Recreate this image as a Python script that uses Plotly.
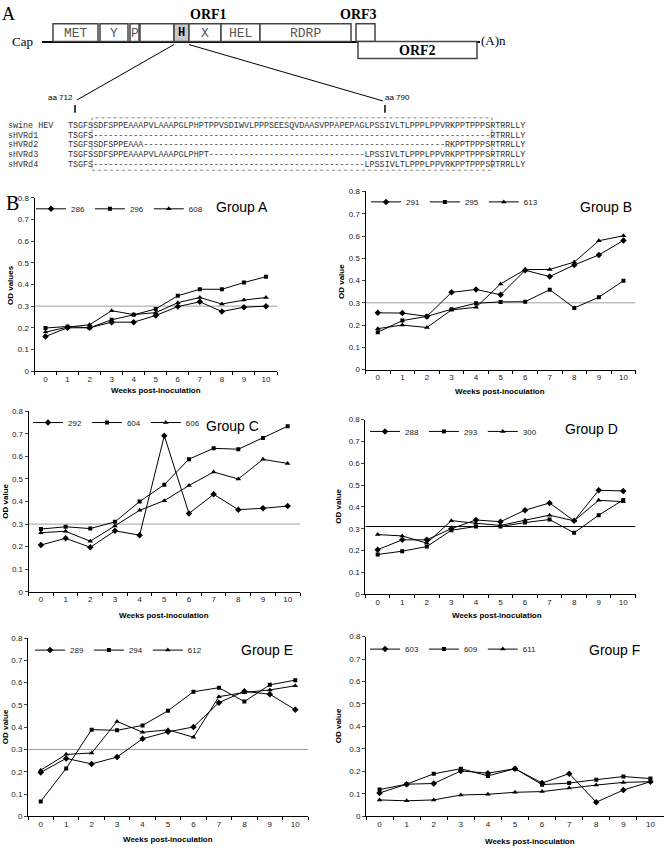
import plotly.graph_objects as go

W, H = 664, 852

weeks = list(range(11))

# ---- data (OD values) ----
groups = ["Group A", "Group B", "Group C", "Group D", "Group E", "Group F"]
pig_ids = [["286", "296", "608"], ["291", "295", "613"], ["292", "604", "606"],
           ["288", "293", "300"], ["289", "294", "612"], ["603", "609", "611"]]

gA_286 = [0.16, 0.20, 0.20, 0.226, 0.226, 0.257, 0.298, 0.32, 0.275, 0.295, 0.30]
gA_296 = [0.199, 0.206, 0.20, 0.237, 0.26, 0.287, 0.348, 0.378, 0.378, 0.409, 0.436]
gA_608 = [0.18, 0.203, 0.214, 0.279, 0.261, 0.27, 0.316, 0.34, 0.31, 0.328, 0.34]

gB_291 = [0.255, 0.254, 0.239, 0.347, 0.36, 0.336, 0.446, 0.418, 0.47, 0.515, 0.58]
gB_295 = [0.168, 0.22, 0.239, 0.271, 0.298, 0.304, 0.305, 0.359, 0.277, 0.325, 0.399]
gB_613 = [0.184, 0.20, 0.189, 0.268, 0.28, 0.385, 0.449, 0.45, 0.483, 0.579, 0.601]

gC_292 = [0.207, 0.237, 0.197, 0.27, 0.251, 0.692, 0.347, 0.432, 0.364, 0.37, 0.38]
gC_604 = [0.278, 0.288, 0.28, 0.31, 0.40, 0.475, 0.588, 0.636, 0.632, 0.682, 0.734]
gC_606 = [0.262, 0.268, 0.224, 0.292, 0.361, 0.404, 0.471, 0.531, 0.50, 0.587, 0.569]

gD_288 = [0.204, 0.249, 0.249, 0.30, 0.34, 0.332, 0.385, 0.418, 0.336, 0.476, 0.473]
gD_293 = [0.182, 0.197, 0.218, 0.293, 0.31, 0.31, 0.328, 0.342, 0.281, 0.362, 0.432]
gD_300 = [0.273, 0.267, 0.234, 0.337, 0.325, 0.315, 0.339, 0.362, 0.336, 0.43, 0.424]

gE_289 = [0.197, 0.26, 0.235, 0.266, 0.348, 0.379, 0.401, 0.51, 0.561, 0.548, 0.478]
gE_294 = [0.067, 0.215, 0.389, 0.386, 0.408, 0.474, 0.559, 0.577, 0.515, 0.59, 0.611]
gE_612 = [0.207, 0.278, 0.284, 0.426, 0.377, 0.388, 0.355, 0.537, 0.556, 0.567, 0.586]

gF_603 = [0.104, 0.143, 0.146, 0.202, 0.192, 0.212, 0.148, 0.19, 0.063, 0.117, 0.154]
gF_609 = [0.119, 0.143, 0.189, 0.212, 0.18, 0.212, 0.141, 0.148, 0.163, 0.177, 0.168]
gF_611 = [0.073, 0.069, 0.073, 0.095, 0.098, 0.107, 0.11, 0.126, 0.139, 0.151, 0.154]

series = [[gA_286, gA_296, gA_608], [gB_291, gB_295, gB_613], [gC_292, gC_604, gC_606],
          [gD_288, gD_293, gD_300], [gE_289, gE_294, gE_612], [gF_603, gF_609, gF_611]]
cutoffs = [0.3, 0.3, 0.3, 0.31, 0.3, None]
cutoff_colors = ["#a0a0a0", "#a0a0a0", "#a0a0a0", "#000000", "#a0a0a0", None]
ytitles = ["OD values", "OD value", "OD value", "OD value", "OD value", "OD value"]
ytick_vals = [0, 0.1, 0.2, 0.3, 0.4, 0.5, 0.6, 0.7, 0.8]
ytick_text = ["0", "0.1", "0.2", "0.3", "0.4", "0.5", "0.6", "0.7", "0.8"]
symbols = ["diamond", "square", "triangle-up"]
sym_sizes = [5, 4, 5]

# ---- sequence alignment (panel A) ----
seq_names = ["swine HEV", "sHVRd1", "sHVRd2", "sHVRd3", "sHVRd4"]
seq_rows = [
    "TSGFS" + "SDFSPPEAAAPVLAAAPGLPHPTPPVSDIWVLPPPSEESQVDAASVPPAPEPAGLPSSIVLTLPPPLPPVRKPPTPPPS" + "RTRRLLY",
    "TSGFS" + "-" * 79 + "RTRRLLY",
    "TSGFS" + "SDFSPPEAAA" + "-" * 60 + "RKPPTPPPS" + "RTRRLLY",
    "TSGFS" + "SDFSPPEAAAPVLAAAPGLPHPT" + "-" * 31 + "LPSSIVLTLPPPLPPVRKPPTPPPS" + "RTRRLLY",
    "TSGFS" + "-" * 54 + "LPSSIVLTLPPPLPPVRKPPTPPPS" + "RTRRLLY",
]

# genome domain boxes: label, left px, right px
orf1_domains = [("MET", 53, 98), ("Y", 100, 128), ("P", 130, 139), ("", 140, 174),
                ("H", 174, 189), ("X", 189, 221), ("HEL", 221, 260), ("RDRP", 260, 351)]

# ---- layout geometry (pixels) ----
panels = [  # x0, x1, ytop(0.8), ybottom(0)
    (34.5, 277, 196, 371),
    (365.5, 635.7, 189.5, 369.5),
    (28.6, 300, 411.7, 594),
    (365.4, 635.5, 420, 596.5),
    (28, 308, 640.8, 821),
    (366, 664, 639.3, 821),
]
title_pos = [(242, 205), (606, 205), (233, 426), (591, 430), (267, 653), (614, 653)]
legend_pos = [(31, 207), (366, 200), (28, 423), (365, 432), (30, 653), (365, 652)]
ytitle_pos = [(11, 284), (341, 280), (6, 503), (339, 508), (5, 731), (338, 730)]
xtitle_pos = [(156, 391), (500, 392), (164, 618), (497, 618), (168, 844), (530, 846)]


def fx(x):
    return x / W


def fy(y):
    return 1 - y / H


fig = go.Figure()
annotations = []
shapes = []

for i in range(6):
    ax = "" if i == 0 else str(i + 1)
    x0, x1, yt, yb = panels[i]
    leg = "legend" if i == 0 else "legend" + str(i + 1)
    for k in range(3):
        fig.add_trace(go.Scatter(
            x=weeks, y=series[i][k], mode="lines+markers", name=pig_ids[i][k],
            xaxis="x" + ax, yaxis="y" + ax, legend=leg,
            line=dict(color="black", width=1),
            marker=dict(symbol=symbols[k], size=sym_sizes[k], color="black"),
        ))
    fig.layout["xaxis" + ax] = dict(
        domain=[fx(x0), fx(x1)], anchor="y" + ax, range=[-0.5, 10.5],
        tickvals=weeks, ticktext=[str(w) for w in weeks], ticks="",
        showline=True, linecolor="black", linewidth=1, showgrid=False, zeroline=False,
        tickfont=dict(family="Arial, Liberation Sans", size=8, color="#222"),
        minor=dict(tickvals=[w - 0.5 for w in weeks] + [10.5], ticks="outside",
                   ticklen=3, tickcolor="black", showgrid=False),
    )
    fig.layout["yaxis" + ax] = dict(
        domain=[fy(yb), fy(yt)], anchor="x" + ax, range=[0, 0.8],
        tickvals=ytick_vals, ticktext=ytick_text, ticks="outside", ticklen=3,
        showline=True, linecolor="black", linewidth=1, showgrid=False, zeroline=False,
        tickfont=dict(family="Arial, Liberation Sans", size=8, color="#222"),
    )
    lx, ly = legend_pos[i]
    fig.layout[leg] = dict(
        x=fx(lx), y=fy(ly), xanchor="left", yanchor="middle", orientation="h",
        font=dict(family="Arial, Liberation Sans", size=8, color="#222"),
        bgcolor="rgba(0,0,0,0)", itemwidth=30, tracegroupgap=0,
    )
    if cutoffs[i] is not None:
        shapes.append(dict(type="line", xref="x" + ax, yref="y" + ax,
                           x0=-0.5, x1=10.5, y0=cutoffs[i], y1=cutoffs[i],
                           line=dict(color=cutoff_colors[i], width=1), layer="below"))
    tx, ty = title_pos[i]
    annotations.append(dict(text=groups[i], x=fx(tx), y=fy(ty), xref="paper", yref="paper",
                            showarrow=False, xanchor="center", yanchor="middle",
                            font=dict(family="Arial, Liberation Sans", size=14, color="black")))
    yx, yy = ytitle_pos[i]
    annotations.append(dict(text="<b>" + ytitles[i] + "</b>", x=fx(yx), y=fy(yy), xref="paper",
                            yref="paper", showarrow=False, textangle=-90,
                            xanchor="center", yanchor="middle",
                            font=dict(family="Arial, Liberation Sans", size=8, color="black")))
    xx, xy = xtitle_pos[i]
    annotations.append(dict(text="<b>Weeks post-inoculation</b>", x=fx(xx), y=fy(xy),
                            xref="paper", yref="paper", showarrow=False,
                            xanchor="center", yanchor="middle",
                            font=dict(family="Arial, Liberation Sans", size=8, color="black")))


def ptext(text, x, y, size, family="Liberation Serif, Times New Roman", color="black",
          xanchor="center", bold=False):
    annotations.append(dict(text=("<b>%s</b>" % text) if bold else text, x=fx(x), y=fy(y),
                            xref="paper", yref="paper", showarrow=False,
                            xanchor=xanchor, yanchor="middle",
                            font=dict(family=family, size=size, color=color)))


def prect(x0, y0, x1, y1, fill="white", line="#444", width=1.5, dash="solid"):
    shapes.append(dict(type="rect", xref="paper", yref="paper",
                       x0=fx(x0), x1=fx(x1), y0=fy(y1), y1=fy(y0),
                       fillcolor=fill, line=dict(color=line, width=width, dash=dash)))


def pline(x0, y0, x1, y1, color="black", width=1, dash="solid"):
    shapes.append(dict(type="line", xref="paper", yref="paper",
                       x0=fx(x0), x1=fx(x1), y0=fy(y0), y1=fy(y1),
                       line=dict(color=color, width=width, dash=dash)))


# panel letters
ptext("A", 8, 10, 18)
ptext("B", 12, 201, 20)

# genome line
pline(42, 38.5, 480, 38.5, width=2)
for lab, a, b in orf1_domains:
    prect(a, 20, b, 38, fill="#c8c8c8" if lab == "H" else "white")
    if lab:
        ptext(lab, (a + b) / 2, 29.5, 13 if lab != "H" else 12,
              family="Liberation Mono, Courier New", color="#555" if lab != "H" else "black",
              bold=(lab == "H"))
prect(356, 20, 375, 38)
prect(358, 38, 477, 55)
ptext("ORF1", 208, 11, 14, bold=True)
ptext("ORF3", 359, 11, 14, bold=True)
ptext("ORF2", 417, 47, 14, bold=True)
ptext("Cap", 22, 38, 13)
ptext("(A)n", 493, 37, 13)

# zoom lines
pline(174, 41, 77, 97)
pline(189, 41, 383, 98)
pline(75, 102, 75, 110, width=1.5)
pline(385, 102, 385, 110, width=1.5)
ptext("aa 712", 75, 94, 8, family="Arial, Liberation Sans", xanchor="right")
ptext("aa 790", 383, 94, 8, family="Arial, Liberation Sans", xanchor="left")

# alignment
row_y = [123.3, 133.3, 143, 152.7, 162.3]
for name, row, yy in zip(seq_names, seq_rows, row_y):
    ptext(name, 6, yy, 8.4, family="Liberation Mono, Courier New", color="#333", xanchor="left")
    ptext(row, 66, yy, 8.4, family="Liberation Mono, Courier New", color="#333", xanchor="left")
prect(92, 115, 492, 168, fill="rgba(0,0,0,0)", line="#888", width=1, dash="dot")

fig.update_layout(
    width=W, height=H, margin=dict(l=0, r=0, t=0, b=0),
    paper_bgcolor="white", plot_bgcolor="white",
    annotations=annotations, shapes=shapes,
    font=dict(family="Arial, Liberation Sans"),
)

fig.write_html("out.html", config={"displayModeBar": False},
               post_script="document.body.style.margin='0px';document.body.style.padding='0px';")
